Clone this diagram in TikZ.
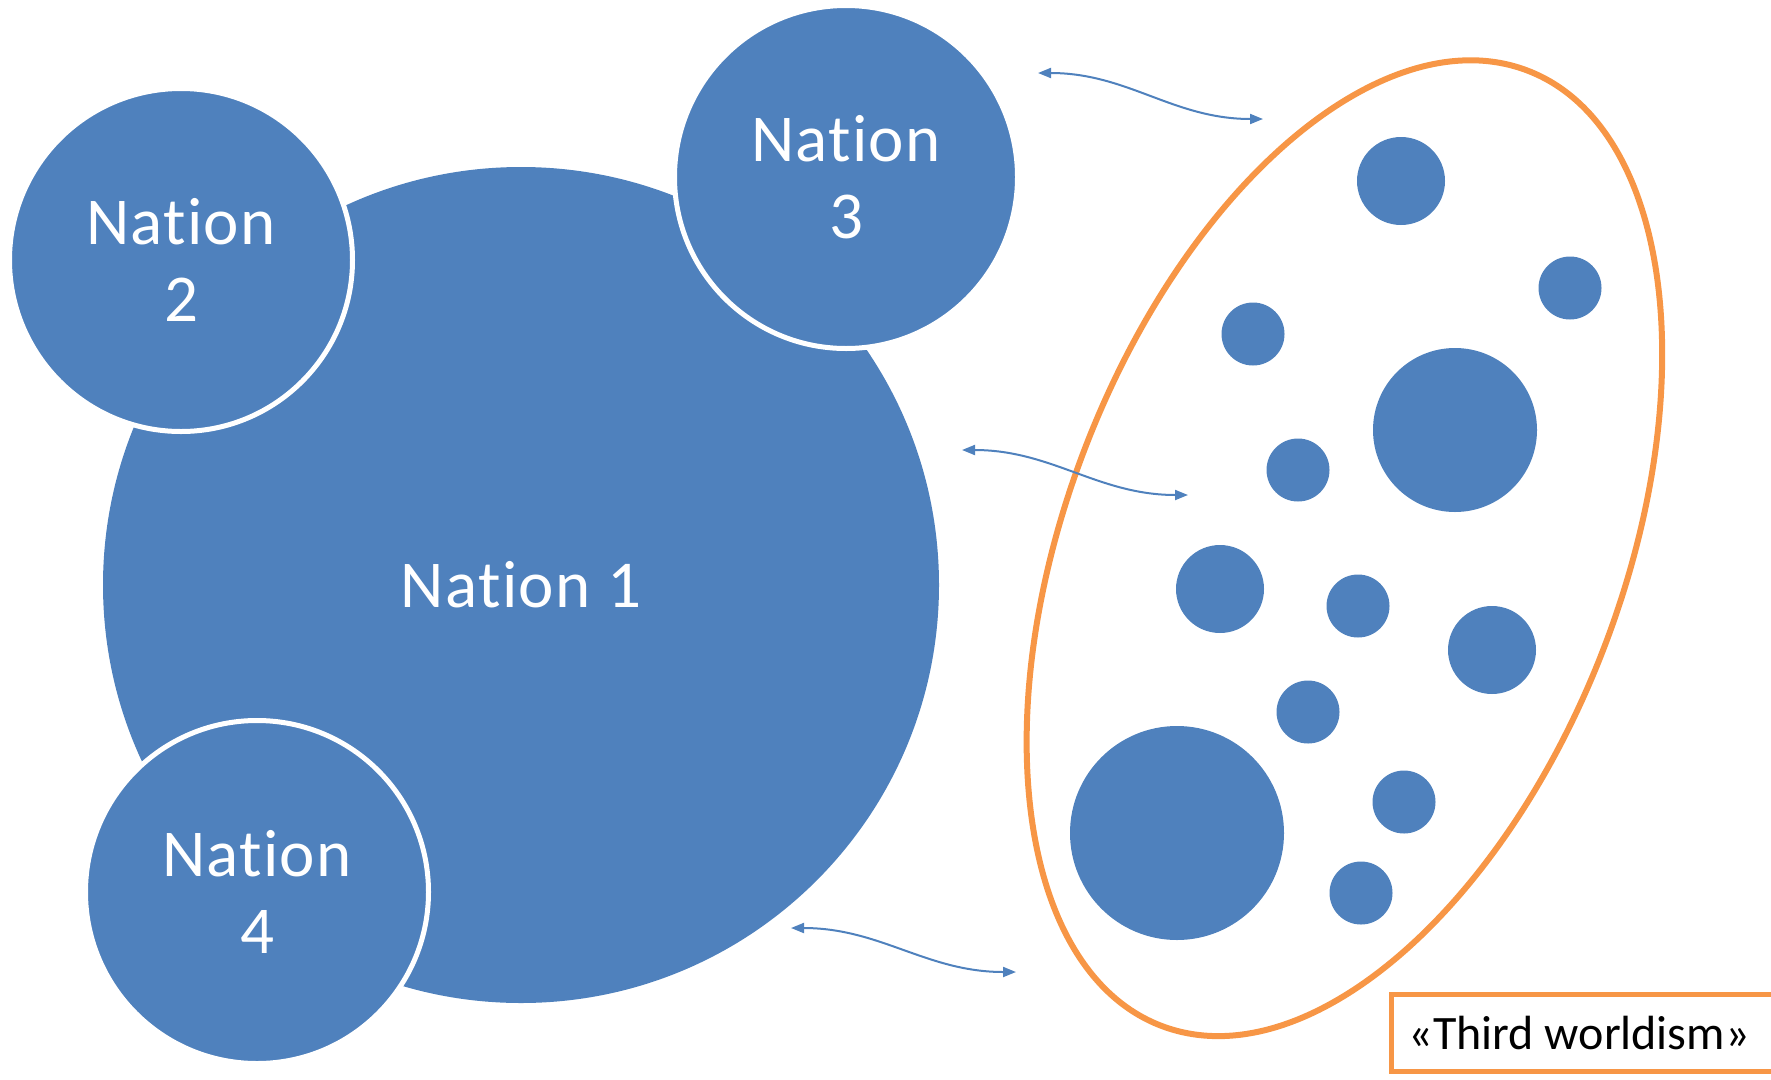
\documentclass[tikz,border=0pt]{standalone}
\usepackage{fontspec}
\setmainfont{Carlito}[Ligatures={CommonOff}]
\usetikzlibrary{arrows.meta,shapes.geometric}
\definecolor{nblue}{HTML}{4F81BD}
\definecolor{norange}{HTML}{F79646}
\begin{document}
\begin{tikzpicture}[x=1pt,y=-1pt,
  bignation/.style={circle, fill=nblue, inner sep=0pt, text=white, align=center,
    font=\fontsize{67}{77}\selectfont\addfontfeatures{LetterSpace=2}},
  nation/.style={bignation, draw=white, line width=5pt, minimum size=343pt},
  dot/.style={circle, fill=nblue, inner sep=0pt},
  link/.style={draw=nblue, line width=2pt,
    {Triangle[length=13pt,width=10pt]}-{Triangle[length=13pt,width=10pt]}},
  group/.style={ellipse, draw=norange, line width=6pt, inner sep=0pt},
  labelbox/.style={draw=norange, line width=5pt, fill=white, text=black,
    font=\fontsize{48}{56}\selectfont, align=flush left}]
\useasboundingbox (0,0) rectangle (1771,1079);
\path[clip] (0,0) rectangle (1771,1079);

% main nations
\node[bignation, minimum size=836pt] (n1) at (521,585) {Nation 1};
\node[nation] (n2) at (181,260) {Nation\\2};
\node[nation] (n3) at (846,177) {Nation\\3};
\node[nation] (n4) at (257,892) {Nation\\4};

% third world group
\node[group, minimum width=1023pt, minimum height=556pt, rotate=69] (tw) at (1344.4,548.2) {};

% small nations
\node[dot, minimum size=88pt]  (d1)  at (1401,181) {};
\node[dot, minimum size=63pt]  (d2)  at (1570,288) {};
\node[dot, minimum size=63pt]  (d3)  at (1253,334) {};
\node[dot, minimum size=164pt] (d4)  at (1455,430) {};
\node[dot, minimum size=63pt]  (d5)  at (1298,470) {};
\node[dot, minimum size=88pt]  (d6)  at (1220,589) {};
\node[dot, minimum size=63pt]  (d7)  at (1358,606) {};
\node[dot, minimum size=88pt]  (d8)  at (1492,650) {};
\node[dot, minimum size=63pt]  (d9)  at (1308,712) {};
\node[dot, minimum size=214pt] (d10) at (1177,833) {};
\node[dot, minimum size=63pt]  (d11) at (1404,802) {};
\node[dot, minimum size=63pt]  (d12) at (1361,893) {};

% relations
\coordinate (a1) at (1038,73);
\coordinate (a2) at (1263,119);
\coordinate (b1) at (962,450);
\coordinate (b2) at (1188,495);
\coordinate (c1) at (791,928);
\coordinate (c2) at (1016,972);
\draw[link] (a1) to[out=0,in=180] (a2);
\draw[link] (b1) to[out=0,in=180] (b2);
\draw[link] (c1) to[out=0,in=180] (c2);

% label
\node[labelbox, anchor=west, minimum height=77pt, text width=376pt, inner xsep=17pt] (lbl) at (1389,1032.5) {«Third worldism»};
\end{tikzpicture}
\end{document}
